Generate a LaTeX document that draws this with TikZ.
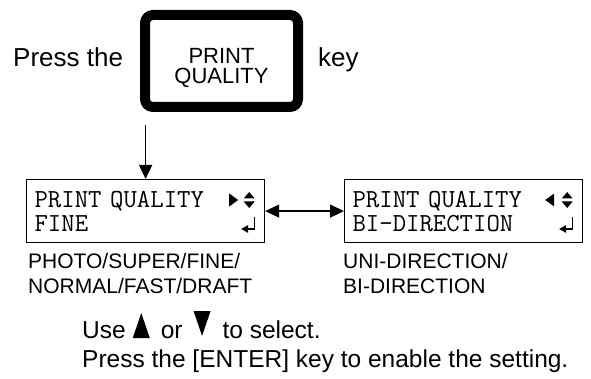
\documentclass[tikz,border=0pt]{standalone}
\usepackage{fontspec}
\setmainfont{Liberation Sans}
\usepackage{tikz}
\usetikzlibrary{arrows.meta,calc,positioning}

\newcommand\uptri{\tikz[x=1pt,y=1pt,baseline=0pt]\fill (0,0) -- (17,0) -- (8.5,25) -- cycle;}
\newcommand\dntri{\tikz[x=1pt,y=1pt,baseline=0pt]\fill (0,27) -- (17,27) -- (8.5,2) -- cycle;}

\tikzset{
  keybox/.style={draw, line width=10pt, rounded corners=8pt, minimum width=153pt, minimum height=92pt},
  keylbl/.style={inner sep=0pt, align=center, font=\fontsize{22}{20}\selectfont},
  big/.style={inner sep=0pt, anchor=base west, font=\fontsize{26}{28}\selectfont},
  lcd/.style={draw, line width=1.2pt, anchor=north west, minimum height=63pt, text width=222pt,
    inner xsep=8pt, align=left, font=\fontsize{26}{24}\selectfont\ttfamily},
  note/.style={inner sep=0pt, anchor=north west, align=left, font=\fontsize{21}{25}\selectfont},
  hint/.style={inner sep=0pt, anchor=base west, font=\fontsize{24.5}{26}\selectfont},
  flow/.style={line width=1.3pt, -{Triangle[length=14pt,width=13pt]}},
  twoway/.style={line width=1.3pt, {Triangle[length=14pt,width=13pt]}-{Triangle[length=14pt,width=13pt]}},
  updn/.pic={\fill (-5.5,-1.5) -- (5.5,-1.5) -- (0,-8) -- cycle;
             \fill (-5.5,1.5) -- (5.5,1.5) -- (0,8) -- cycle;},
  rtri/.pic={\fill (-4,-6.5) -- (5,0) -- (-4,6.5) -- cycle;},
  ltri/.pic={\fill (4,-6.5) -- (-5,0) -- (4,6.5) -- cycle;},
  retkey/.pic={\draw[line width=1.3pt] (5,-7) -- (5,5) -- (-2,5);
               \fill (-8,5) -- (-1,1) -- (-1,9) -- cycle;}
}

\begin{document}
\begin{tikzpicture}[x=1pt, y=-1pt]
  \useasboundingbox (0,0) rectangle (591,379);
  \node[big] (press) at (13,67) {Press the};
  \node[keybox] (keybtn) at (221.5,61) {};
  \node[keylbl] (keytxt) at (221.5,68) {PRINT\\QUALITY};
  \node[big] (keyword) at (318,67) {key};

  \node[lcd] (lcdq) at (26,179) {PRINT QUALITY\\FINE};
  \node[lcd] (lcdd) at (344,179) {PRINT QUALITY\\BI-DIRECTION};
  \pic at ($(lcdq.north east)+(-32,21)$) {rtri};
  \pic at ($(lcdd.north east)+(-33,21)$) {ltri};
  \foreach \lcdname in {lcdq,lcdd} {
    \pic at ($(\lcdname.north east)+(-16,21)$) {updn};
    \pic at ($(\lcdname.north east)+(-16,45)$) {retkey};
  }

  \coordinate (drop) at (lcdq.north |- 0,125);
  \draw[flow] (drop) -- (lcdq.north);
  \draw[twoway] (lcdq.east) -- (lcdd.west);

  \node[note] (modes) at (28,253) {PHOTO/SUPER/FINE/\\NORMAL/FAST/DRAFT};
  \node[note] (dirs) at (343,253) {UNI-DIRECTION/\\BI-DIRECTION};

  \node[hint] (usehint) at (82,338) {Use\hspace{7pt}\uptri\hspace{11pt}or\hspace{11pt}\dntri\hspace{12pt}to select.};
  \node[hint] (enterhint) at (82,367) {Press the [ENTER] key to enable the setting.};
\end{tikzpicture}
\end{document}
